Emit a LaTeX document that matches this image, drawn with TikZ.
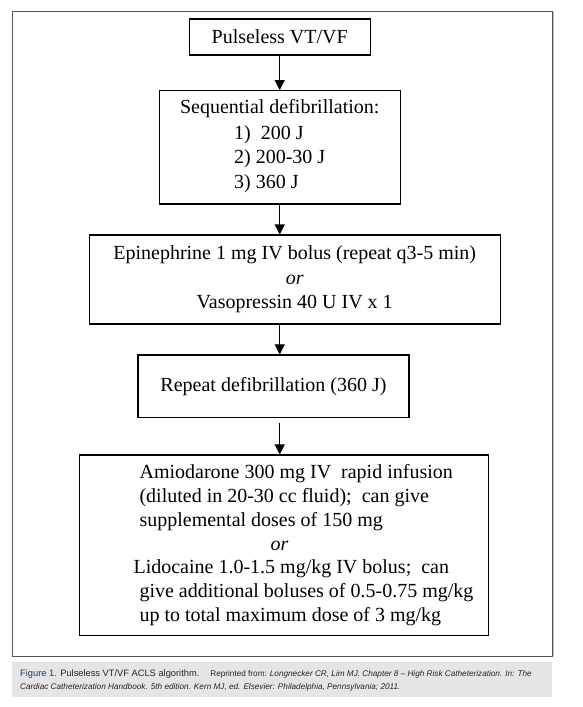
\documentclass[tikz,border=0pt]{standalone}
\usepackage{fontspec}
\setmainfont{Liberation Serif}
\newfontfamily\capfont{Liberation Sans}
\usepackage{tikz}
\usetikzlibrary{arrows.meta}
\definecolor{framegray}{HTML}{555555}
\definecolor{capgray}{HTML}{E5E5E5}
\definecolor{capblue}{HTML}{1F3A68}

\begin{document}
\begin{tikzpicture}[x=1pt, y=-1pt,
    stepbox/.style={draw, line width=1.1pt, inner sep=0pt, align=center,
        font=\fontsize{20}{24.4}\selectfont},
    flow/.style={line width=1.1pt, -{Triangle[width=10pt, length=10pt]}}]

    \useasboundingbox (0,0) rectangle (582,707);

    % Outer frame
    \draw[framegray, line width=0.9pt] (12,11.5) rectangle (552,656);
    \draw[gray!55, line width=1.2pt] (553.2,11.5) -- (553.2,656);

    % Caption band
    \fill[capgray] (12,662) rectangle (552,697);

    % Boxes
    \node[stepbox, minimum width=180.7pt, minimum height=36pt] (start) at (279.7,37)
        {Pulseless VT/VF};
    \node[stepbox, minimum width=240.7pt, minimum height=113.3pt] (defib) at (279.7,147.3)
        {Sequential defibrillation:\\[1.6pt]
         \begin{tabular}[t]{@{}l@{}}1)\ \ 200 J\\ 2)\ 200-30 J\\ 3)\ 360 J\end{tabular}};
    \node[stepbox, minimum width=410.7pt, minimum height=89pt] (drug) at (294.7,279.5)
        {Epinephrine 1 mg IV bolus (repeat q3-5 min)\\ \textit{or}\\ Vasopressin 40 U IV x 1};
    \node[stepbox, minimum width=271pt, minimum height=62.7pt] (repeat) at (273.5,386.3)
        {Repeat defibrillation (360 J)};
    \node[stepbox, minimum width=408.7pt, minimum height=180.7pt,
        font=\fontsize{20}{23.8}\selectfont] (antiarr) at (283.7,545.3)
        {\hspace*{45.6pt}\begin{tabular}{@{}l@{}}
            Amiodarone 300 mg IV\ \ rapid infusion\\
            (diluted in 20-30 cc fluid);\ \ can give\\
            supplemental doses of 150 mg\\
            \hspace*{131pt}\textit{or}\\
            \hspace*{-6pt}Lidocaine 1.0-1.5 mg/kg IV bolus;\ \ can\\
            give additional boluses of 0.5-0.75 mg/kg\\
            up to total maximum dose of 3 mg/kg
         \end{tabular}};

    % Arrows
    \draw[flow] (start.south) -- (defib.north);
    \draw[flow] (defib.south) -- (defib.south |- drug.north);
    \draw[flow] (defib.south |- drug.south) -- (defib.south |- repeat.north);
    \draw[flow, shorten <=5pt] (defib.south |- repeat.south) -- (defib.south |- antiarr.north);

    % Caption
    \node[anchor=west, align=left, inner sep=0pt, text=black!85,
        font=\capfont\fontsize{8.2}{12.5}\selectfont] (caption) at (20,680.5)
        {{\fontsize{9.3}{12.5}\selectfont\textcolor{capblue}{Figure 1.} Pulseless VT/VF ACLS algorithm.}\hspace{11pt}Reprinted from: \textit{Longnecker CR, Lim MJ. Chapter 8 – High Risk Catheterization. In: The}\\
         \textit{Cardiac Catheterization Handbook. 5th edition. Kern MJ, ed. Elsevier: Philadelphia, Pennsylvania; 2011.}};

\end{tikzpicture}
\end{document}
